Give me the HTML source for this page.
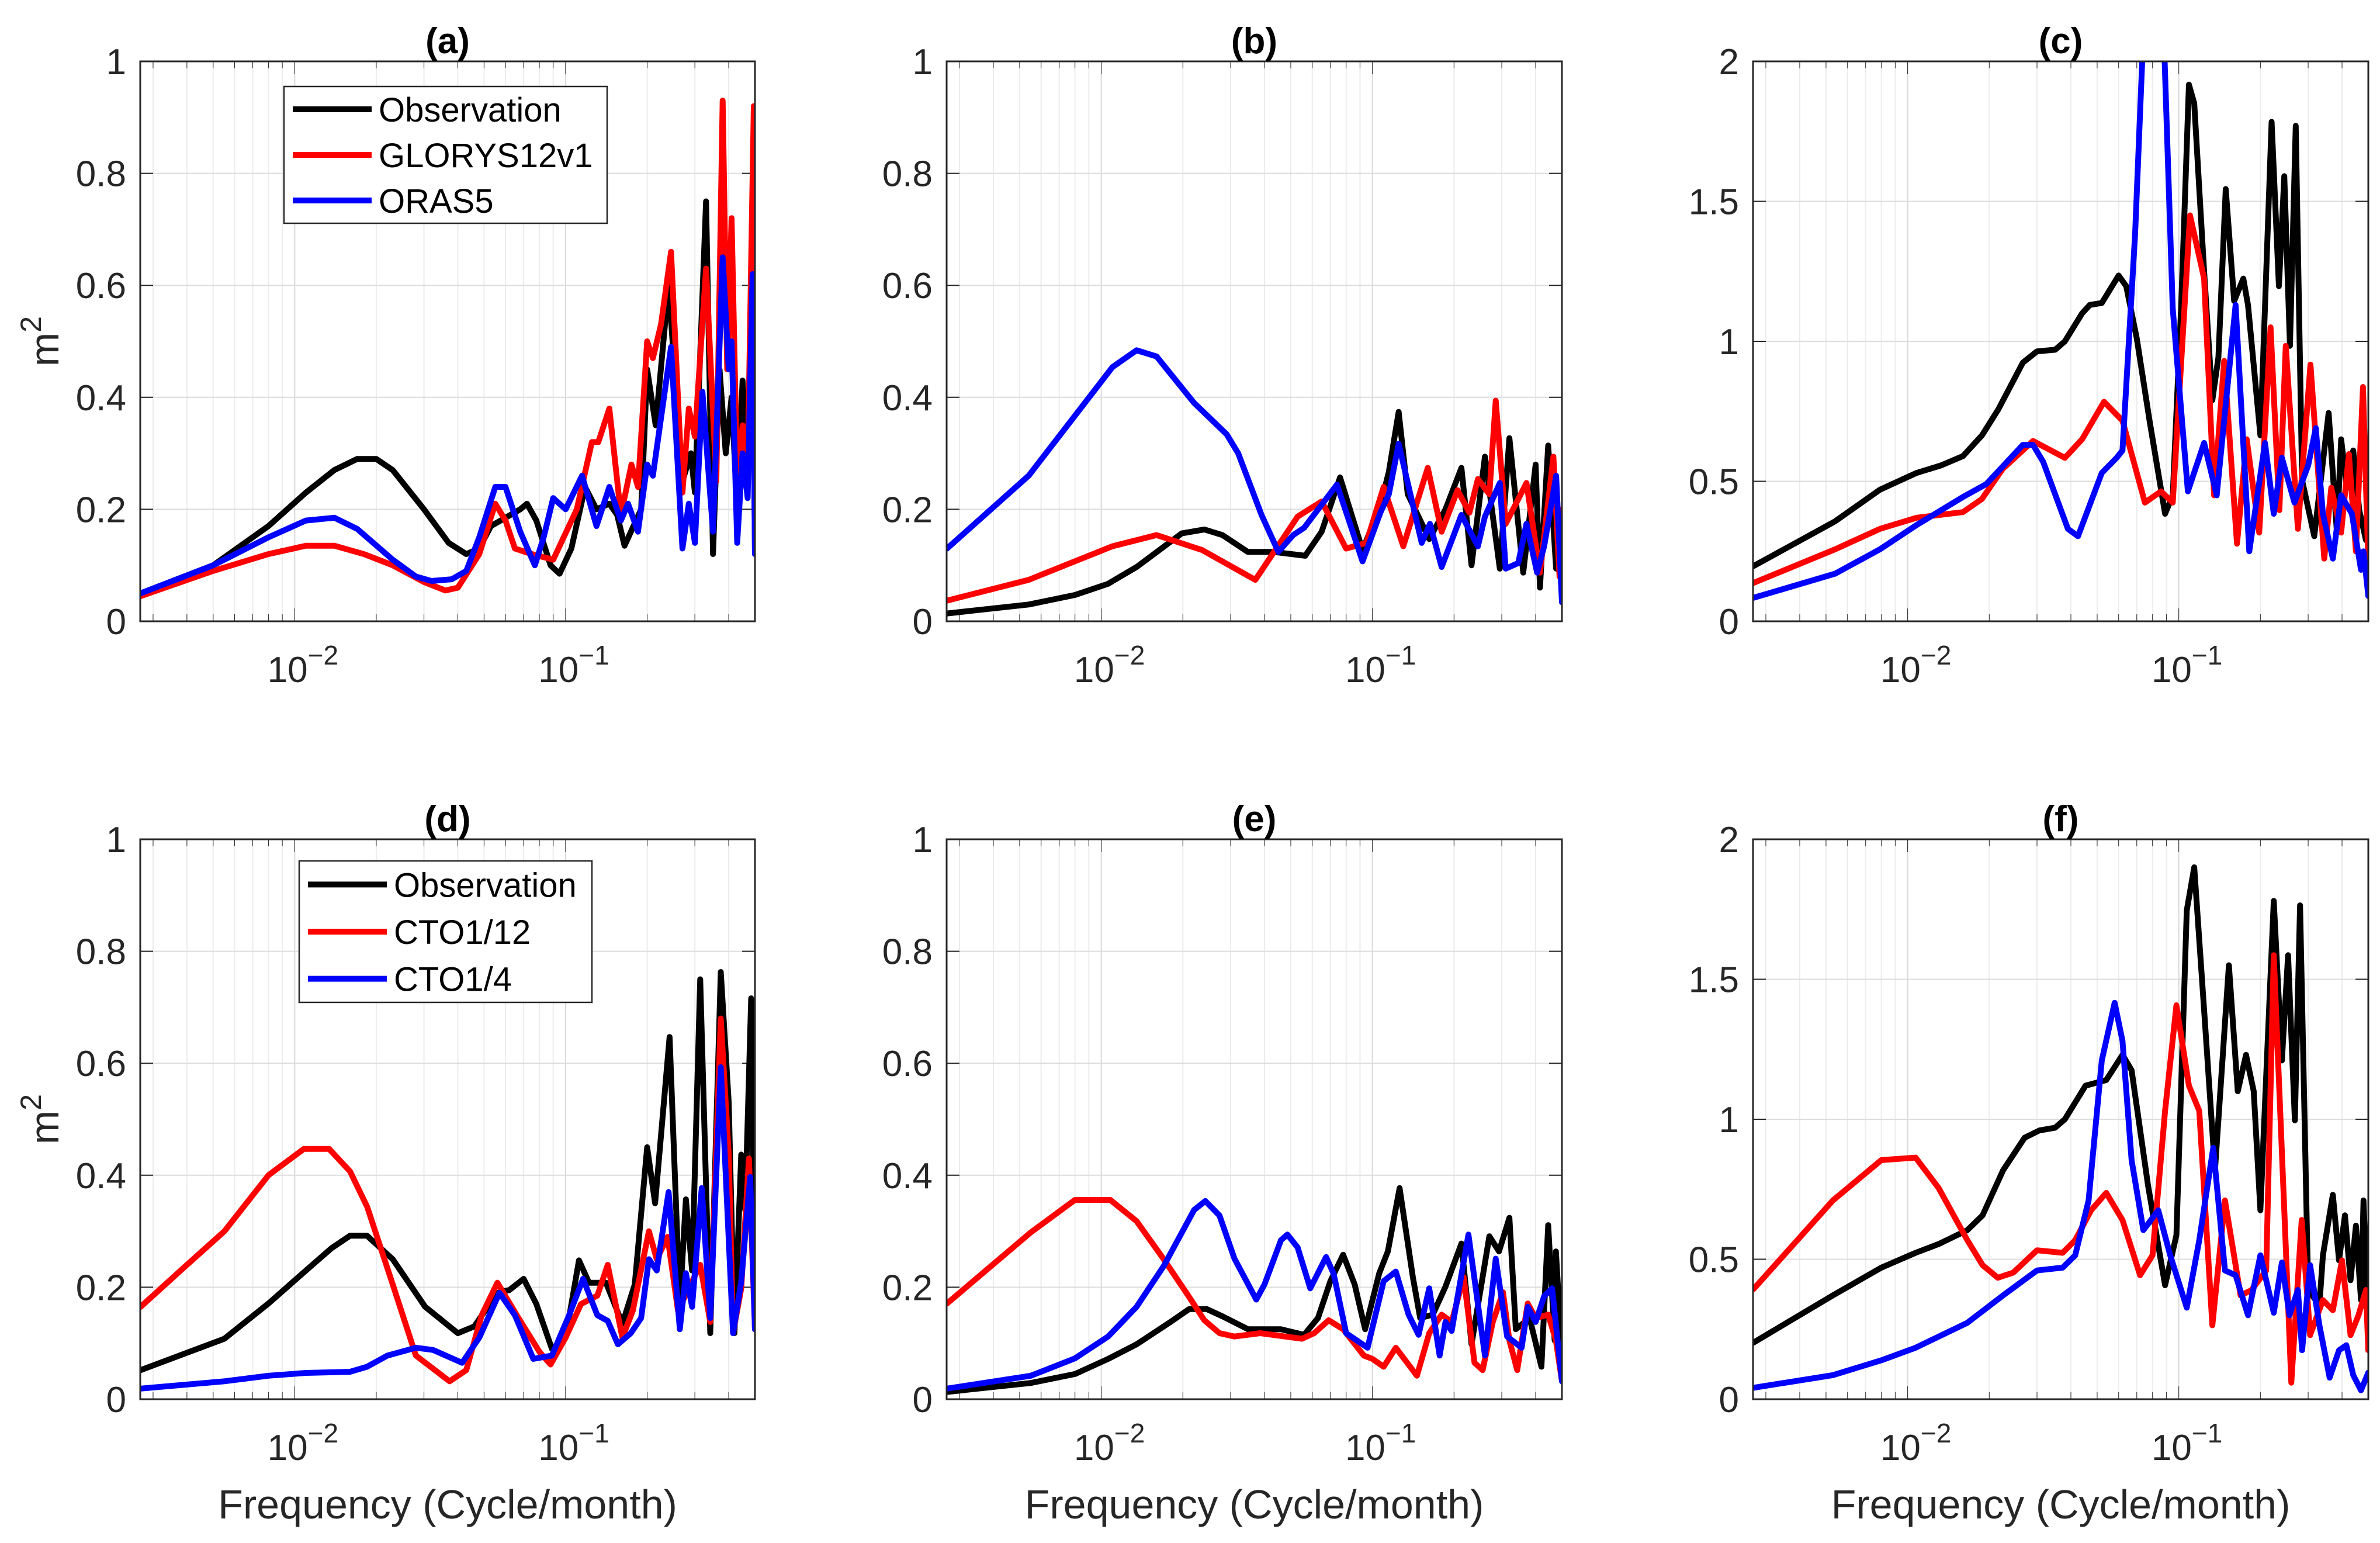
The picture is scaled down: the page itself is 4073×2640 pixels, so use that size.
<!DOCTYPE html>
<html><head><meta charset="utf-8"><style>
html,body{margin:0;padding:0;background:#fff}
svg{display:block;font-family:"Liberation Sans",Arial,sans-serif}
</style></head><body>
<svg id="fig" width="4073" height="2640" viewBox="0 0 4073 2640" xmlns="http://www.w3.org/2000/svg"></svg>
<script>
// ---------- Data (frequency in cycle/month, power in m^2) ----------
const fA_obs=[0.0027,0.005,0.008,0.011,0.014,0.017,0.02,0.023,0.03,0.037,0.043,0.048,0.053,0.06,0.068,0.072,0.078,0.088,0.095,0.105,0.118,0.13,0.145,0.155,0.165,0.19,0.2,0.215,0.24,0.27,0.29,0.3,0.33,0.35,0.37,0.39,0.41,0.43,0.45,0.47,0.49,0.5];
const vA_obs=[0.05,0.1,0.17,0.23,0.27,0.29,0.29,0.27,0.2,0.14,0.12,0.13,0.17,0.185,0.2,0.21,0.18,0.1,0.085,0.13,0.24,0.2,0.21,0.19,0.135,0.2,0.45,0.35,0.6,0.25,0.3,0.23,0.75,0.12,0.45,0.3,0.4,0.2,0.43,0.28,0.6,0.12];
const fA_red=[0.0027,0.005,0.008,0.011,0.014,0.018,0.023,0.03,0.036,0.04,0.048,0.055,0.06,0.065,0.075,0.09,0.11,0.125,0.132,0.145,0.16,0.175,0.185,0.2,0.21,0.225,0.245,0.27,0.285,0.3,0.33,0.36,0.38,0.395,0.41,0.43,0.45,0.47,0.495,0.5];
const vA_red=[0.045,0.09,0.12,0.135,0.135,0.12,0.1,0.07,0.055,0.06,0.12,0.21,0.18,0.13,0.12,0.11,0.2,0.32,0.32,0.38,0.19,0.28,0.24,0.5,0.47,0.53,0.66,0.23,0.38,0.33,0.63,0.25,0.93,0.45,0.72,0.25,0.35,0.27,0.92,0.5];
const fA_blue=[0.0027,0.005,0.008,0.011,0.014,0.017,0.023,0.028,0.032,0.038,0.043,0.048,0.055,0.06,0.068,0.077,0.083,0.09,0.1,0.115,0.13,0.145,0.16,0.17,0.185,0.2,0.21,0.245,0.27,0.285,0.3,0.32,0.35,0.38,0.4,0.41,0.43,0.45,0.47,0.49,0.5];
const vA_blue=[0.05,0.1,0.15,0.18,0.185,0.165,0.11,0.08,0.072,0.075,0.09,0.15,0.24,0.24,0.16,0.1,0.15,0.22,0.2,0.26,0.17,0.24,0.18,0.21,0.16,0.28,0.26,0.49,0.13,0.21,0.14,0.41,0.16,0.65,0.45,0.5,0.14,0.3,0.22,0.62,0.12];

const fB_obs=[0.0027,0.0054,0.008,0.0106,0.0135,0.0198,0.024,0.028,0.0347,0.043,0.0565,0.065,0.076,0.092,0.107,0.115,0.125,0.135,0.162,0.186,0.213,0.232,0.26,0.295,0.32,0.36,0.4,0.415,0.445,0.476,0.5];
const vB_obs=[0.014,0.03,0.047,0.067,0.097,0.157,0.164,0.154,0.124,0.124,0.117,0.16,0.257,0.127,0.207,0.267,0.374,0.227,0.147,0.2,0.274,0.1,0.294,0.094,0.327,0.087,0.28,0.06,0.314,0.094,0.154];
const fB_red=[0.0027,0.0054,0.011,0.016,0.0236,0.037,0.053,0.065,0.08,0.095,0.11,0.13,0.16,0.18,0.206,0.228,0.245,0.27,0.285,0.31,0.37,0.415,0.465,0.49,0.5];
const vB_red=[0.037,0.074,0.134,0.154,0.127,0.074,0.187,0.214,0.13,0.14,0.24,0.134,0.274,0.16,0.234,0.194,0.254,0.227,0.394,0.174,0.247,0.087,0.294,0.08,0.2];
const fB_blue=[0.0027,0.0054,0.011,0.0135,0.016,0.022,0.029,0.032,0.039,0.045,0.051,0.056,0.074,0.092,0.107,0.115,0.125,0.152,0.163,0.18,0.213,0.245,0.26,0.295,0.31,0.345,0.37,0.405,0.43,0.476,0.5];
const vB_blue=[0.13,0.26,0.454,0.484,0.473,0.39,0.334,0.3,0.19,0.124,0.154,0.167,0.244,0.107,0.194,0.227,0.317,0.14,0.174,0.097,0.19,0.134,0.187,0.247,0.094,0.104,0.174,0.087,0.134,0.26,0.034];

const fC_obs=[0.0027,0.0054,0.0079,0.0108,0.0133,0.016,0.0188,0.0216,0.0266,0.03,0.035,0.038,0.044,0.047,0.052,0.06,0.064,0.07,0.078,0.089,0.095,0.102,0.109,0.114,0.124,0.133,0.14,0.149,0.16,0.173,0.18,0.2,0.22,0.234,0.245,0.257,0.27,0.285,0.316,0.357,0.383,0.397,0.417,0.44,0.463,0.49];
const vC_obs=[0.197,0.357,0.47,0.53,0.557,0.59,0.664,0.757,0.924,0.964,0.97,1.0,1.1,1.13,1.137,1.235,1.197,1.01,0.717,0.384,0.45,1.117,1.917,1.85,1.25,0.79,0.944,1.544,1.144,1.224,1.13,0.664,1.784,1.197,1.59,0.984,1.77,0.504,0.304,0.744,0.317,0.65,0.477,0.61,0.397,0.29];
const fC_red=[0.0027,0.0054,0.0079,0.0108,0.016,0.0188,0.0224,0.029,0.038,0.044,0.053,0.062,0.075,0.086,0.095,0.11,0.124,0.135,0.147,0.164,0.178,0.198,0.218,0.235,0.248,0.275,0.306,0.344,0.365,0.397,0.424,0.45,0.478,0.5];
const vC_red=[0.137,0.257,0.33,0.37,0.39,0.437,0.544,0.644,0.584,0.65,0.784,0.717,0.424,0.464,0.424,1.45,1.224,0.45,0.93,0.277,0.65,0.317,1.05,0.397,0.984,0.33,0.917,0.224,0.477,0.317,0.597,0.25,0.837,0.21];
const fC_blue=[0.0027,0.0054,0.0079,0.0108,0.016,0.0195,0.0266,0.029,0.0316,0.039,0.0425,0.052,0.059,0.062,0.069,0.074,0.081,0.088,0.095,0.108,0.124,0.138,0.162,0.182,0.208,0.224,0.24,0.267,0.3,0.32,0.34,0.37,0.397,0.435,0.47,0.48,0.5];
const vC_blue=[0.084,0.17,0.257,0.344,0.444,0.49,0.63,0.63,0.57,0.33,0.304,0.53,0.584,0.61,1.384,2.1,2.6,2.1,1.117,0.464,0.637,0.45,1.13,0.25,0.637,0.384,0.584,0.424,0.557,0.69,0.384,0.224,0.45,0.384,0.184,0.25,0.09];

const fD_obs=[0.0027,0.0055,0.008,0.011,0.0137,0.016,0.0185,0.023,0.0303,0.04,0.046,0.056,0.062,0.07,0.078,0.089,0.1,0.112,0.122,0.141,0.162,0.18,0.2,0.214,0.242,0.264,0.278,0.293,0.314,0.342,0.374,0.4,0.42,0.445,0.46,0.484,0.5];
const vD_obs=[0.052,0.108,0.171,0.23,0.27,0.292,0.292,0.25,0.165,0.118,0.13,0.19,0.195,0.215,0.17,0.09,0.11,0.248,0.208,0.208,0.135,0.205,0.45,0.35,0.647,0.17,0.357,0.23,0.75,0.118,0.763,0.53,0.118,0.437,0.338,0.716,0.125];
const fD_red=[0.0027,0.004,0.0055,0.008,0.0108,0.0134,0.016,0.0185,0.023,0.028,0.0373,0.043,0.049,0.056,0.067,0.08,0.088,0.1,0.114,0.131,0.143,0.162,0.177,0.203,0.217,0.238,0.26,0.314,0.342,0.374,0.4,0.415,0.445,0.475,0.5];
const vD_red=[0.165,0.24,0.3,0.4,0.447,0.447,0.407,0.344,0.205,0.078,0.032,0.052,0.15,0.208,0.145,0.085,0.062,0.11,0.17,0.185,0.24,0.11,0.158,0.3,0.25,0.29,0.158,0.24,0.138,0.68,0.437,0.118,0.198,0.43,0.125];
const fD_blue=[0.0027,0.0055,0.008,0.011,0.016,0.0185,0.022,0.028,0.0324,0.0415,0.048,0.057,0.065,0.076,0.089,0.103,0.116,0.131,0.143,0.156,0.174,0.19,0.203,0.217,0.24,0.264,0.278,0.293,0.318,0.342,0.374,0.415,0.445,0.48,0.5];
const vD_blue=[0.019,0.032,0.042,0.047,0.049,0.058,0.078,0.092,0.088,0.065,0.11,0.19,0.15,0.072,0.078,0.15,0.215,0.15,0.14,0.098,0.118,0.145,0.25,0.23,0.37,0.125,0.225,0.165,0.377,0.145,0.593,0.118,0.21,0.397,0.125];

const fE_obs=[0.0027,0.0055,0.008,0.0106,0.0135,0.018,0.0211,0.0245,0.028,0.0348,0.046,0.056,0.063,0.07,0.078,0.086,0.094,0.106,0.114,0.126,0.141,0.15,0.167,0.186,0.213,0.232,0.27,0.293,0.32,0.338,0.38,0.42,0.445,0.47,0.475,0.5];
const vE_obs=[0.013,0.029,0.045,0.072,0.098,0.138,0.161,0.161,0.148,0.125,0.125,0.115,0.145,0.211,0.258,0.205,0.125,0.225,0.264,0.377,0.218,0.145,0.151,0.201,0.278,0.098,0.291,0.264,0.324,0.125,0.145,0.058,0.311,0.105,0.264,0.078];
const fE_red=[0.0027,0.0055,0.008,0.0108,0.0135,0.017,0.021,0.024,0.0273,0.031,0.0386,0.0476,0.055,0.061,0.069,0.078,0.093,0.1,0.11,0.122,0.146,0.162,0.18,0.196,0.217,0.238,0.255,0.278,0.303,0.32,0.342,0.374,0.4,0.445,0.475,0.5];
const vE_red=[0.171,0.298,0.356,0.356,0.318,0.25,0.184,0.141,0.118,0.112,0.118,0.112,0.108,0.118,0.141,0.125,0.078,0.072,0.058,0.092,0.042,0.118,0.151,0.138,0.218,0.065,0.052,0.138,0.191,0.105,0.052,0.171,0.145,0.151,0.105,0.032];
const fE_blue=[0.0027,0.0055,0.008,0.0106,0.0135,0.017,0.022,0.0242,0.0273,0.031,0.0373,0.04,0.046,0.0486,0.053,0.059,0.0675,0.072,0.08,0.096,0.11,0.122,0.136,0.148,0.162,0.177,0.186,0.196,0.226,0.26,0.285,0.314,0.355,0.374,0.4,0.43,0.46,0.5];
const vE_blue=[0.019,0.042,0.073,0.112,0.165,0.238,0.338,0.354,0.328,0.251,0.178,0.205,0.284,0.294,0.271,0.198,0.254,0.224,0.118,0.092,0.211,0.228,0.151,0.115,0.198,0.078,0.138,0.122,0.294,0.078,0.251,0.112,0.092,0.165,0.138,0.184,0.198,0.032];

const fF_obs=[0.0027,0.0053,0.008,0.0107,0.013,0.0166,0.0189,0.0225,0.027,0.0306,0.035,0.038,0.0453,0.054,0.062,0.067,0.077,0.089,0.098,0.107,0.114,0.124,0.136,0.153,0.165,0.177,0.189,0.2,0.224,0.24,0.253,0.268,0.28,0.3,0.33,0.34,0.37,0.39,0.41,0.43,0.45,0.47,0.48,0.5];
const vF_obs=[0.202,0.371,0.47,0.523,0.554,0.604,0.657,0.818,0.934,0.96,0.97,1.0,1.12,1.14,1.23,1.175,0.764,0.407,0.586,1.746,1.9,1.39,0.818,1.55,1.1,1.23,1.1,0.675,1.78,1.21,1.586,0.996,1.764,0.39,0.336,0.514,0.73,0.496,0.657,0.425,0.62,0.354,0.71,0.264];
const fF_red=[0.0027,0.0053,0.008,0.0107,0.013,0.0166,0.0189,0.0215,0.0245,0.03,0.0373,0.0415,0.0475,0.054,0.062,0.072,0.08,0.089,0.098,0.109,0.119,0.133,0.148,0.169,0.185,0.21,0.224,0.245,0.26,0.284,0.305,0.34,0.37,0.4,0.43,0.46,0.49,0.5];
const vF_red=[0.393,0.71,0.854,0.863,0.755,0.568,0.479,0.434,0.452,0.532,0.523,0.568,0.675,0.737,0.64,0.443,0.514,1.03,1.407,1.12,1.03,0.264,0.71,0.371,0.389,0.46,1.586,0.675,0.059,0.64,0.229,0.354,0.318,0.496,0.229,0.3,0.39,0.175];
const fF_blue=[0.0027,0.0053,0.008,0.0107,0.0166,0.0225,0.03,0.0373,0.0415,0.0465,0.052,0.058,0.062,0.067,0.074,0.084,0.093,0.107,0.119,0.134,0.148,0.162,0.18,0.2,0.224,0.24,0.256,0.275,0.285,0.305,0.33,0.36,0.39,0.415,0.44,0.47,0.5];
const vF_blue=[0.041,0.086,0.139,0.184,0.273,0.371,0.46,0.47,0.514,0.71,1.21,1.416,1.28,0.854,0.604,0.675,0.514,0.327,0.568,0.898,0.46,0.443,0.3,0.514,0.309,0.488,0.3,0.39,0.175,0.479,0.264,0.077,0.175,0.193,0.086,0.032,0.095];

const xTickVals=[0.01,0.1];
const yTicks01=[0,0.2,0.4,0.6,0.8,1];
const yTicks02=[0,0.5,1,1.5,2];
const legendTop=["Observation","GLORYS12v1","ORAS5"];
const legendBottom=["Observation","CTO1/12","CTO1/4"];

// ---------- Layout ----------
const NS="http://www.w3.org/2000/svg";
const svg=document.getElementById('fig');
const XMIN=0.00269, XMAX=0.5;
const cols=[[240,1292],[1620,2673],[3000,4053]];
const rows=[[105,1063],[1436,2394]];
const COL={obs:"#000000",red:"#ff0000",blue:"#0000ff"};

function mk(tag,attrs,parent){const e=document.createElementNS(NS,tag);for(const k in attrs)e.setAttribute(k,attrs[k]);(parent||svg).appendChild(e);return e;}

const panels=[
 {id:'a',c:0,r:0,ymax:1,ticks:yTicks01,series:[[fA_obs,vA_obs,'obs'],[fA_red,vA_red,'red'],[fA_blue,vA_blue,'blue']],legend:legendTop,lg:[486,148,1039,382],ylab:true,xlab:false},
 {id:'b',c:1,r:0,ymax:1,ticks:yTicks01,series:[[fB_obs,vB_obs,'obs'],[fB_red,vB_red,'red'],[fB_blue,vB_blue,'blue']]},
 {id:'c',c:2,r:0,ymax:2,ticks:yTicks02,series:[[fC_obs,vC_obs,'obs'],[fC_red,vC_red,'red'],[fC_blue,vC_blue,'blue']]},
 {id:'d',c:0,r:1,ymax:1,ticks:yTicks01,series:[[fD_obs,vD_obs,'obs'],[fD_red,vD_red,'red'],[fD_blue,vD_blue,'blue']],legend:legendBottom,lg:[512,1473,1013,1715],ylab:true,xlab:true},
 {id:'e',c:1,r:1,ymax:1,ticks:yTicks01,series:[[fE_obs,vE_obs,'obs'],[fE_red,vE_red,'red'],[fE_blue,vE_blue,'blue']],xlab:true},
 {id:'f',c:2,r:1,ymax:2,ticks:yTicks02,series:[[fF_obs,vF_obs,'obs'],[fF_red,vF_red,'red'],[fF_blue,vF_blue,'blue']],xlab:true}
];

panels.forEach(p=>{
 const [L,R]=cols[p.c],[T,B]=rows[p.r];
 const xs=f=>L+(Math.log10(f)-Math.log10(XMIN))/(Math.log10(XMAX)-Math.log10(XMIN))*(R-L);
 const ys=v=>B-v/p.ymax*(B-T);
 const g=mk('g',{});
 
 
 const gm=mk('g',{stroke:'#e6e6e6','stroke-width':2},g);
 
 
 for(let d=-3;d<=-1;d++)for(let m=1;m<=9;m++){const f=m*Math.pow(10,d);if(f<XMIN||f>XMAX)continue;const x=xs(f);
  mk('line',{x1:x,x2:x,y1:T,y2:B,stroke:m===1?'#d9d9d9':'#ececec'},gm);
  mk('line',{x1:x,x2:x,y1:B,y2:B-(m===1?22:12),stroke:'#262626'},g);
  mk('line',{x1:x,x2:x,y1:T,y2:T+(m===1?22:12),stroke:'#262626'},g);}
 p.ticks.forEach(v=>{const y=ys(v);mk('line',{x1:L,x2:R,y1:y,y2:y,stroke:'#dcdcdc','stroke-width':2},g);
  mk('line',{x1:L,x2:L+22,y1:y,y2:y,stroke:'#262626','stroke-width':2},g);
  mk('line',{x1:R-22,x2:R,y1:y,y2:y,stroke:'#262626','stroke-width':2},g);
  const t=mk('text',{x:L-24,y:y+22,'text-anchor':'end','font-size':62,fill:'#262626'},g);t.textContent=String(v);
  
  });
 xTickVals.forEach(v=>{const x=xs(v);const e=Math.round(Math.log10(v));
  const t=mk('text',{x:x+14,y:B+104,'text-anchor':'middle','font-size':62,fill:'#262626'},g);
  
  
  const a=mk('tspan',{},t);a.textContent='10';
  const b=mk('tspan',{dy:-30,'font-size':46},t);b.textContent='\u2212'+Math.abs(e);});
 const cid='clip'+p.id;
 const cp=mk('clipPath',{id:cid},g);mk('rect',{x:L,y:T,width:R-L,height:B-T},cp);
 const sg=mk('g',{'clip-path':'url(#'+cid+')'},g);
 p.series.forEach(s=>{const [fr,vals,k]=s;
  const d=fr.map((f,i)=>(i?'L':'M')+xs(f).toFixed(1)+' '+ys(vals[i]).toFixed(1)).join(' ');
  const path=mk('path',{d:d,fill:'none',stroke:COL[k],'stroke-width':10,'stroke-linejoin':'round','stroke-linecap':'round'},sg);
  
  });
 mk('rect',{x:L,y:T,width:R-L,height:B-T,fill:'none',stroke:'#262626','stroke-width':3},g);
 const tt=mk('text',{x:(L+R)/2,y:T-14,'text-anchor':'middle','font-size':62,'font-weight':'bold',fill:'#000'},g);
 tt.textContent='('+p.id+')';
 
 
 if(p.ylab){const yl=mk('text',{x:0,y:0,transform:'translate(100,'+((T+B)/2)+') rotate(-90)','text-anchor':'middle','font-size':70,fill:'#262626'},g);
  const a=mk('tspan',{},yl);a.textContent='m';const b=mk('tspan',{dy:-30,'font-size':50},yl);b.textContent='2';
  
  }
 if(p.xlab){const xl=mk('text',{x:(L+R)/2,y:B+204,'text-anchor':'middle','font-size':70,fill:'#262626'},g);xl.textContent='Frequency (Cycle/month)';
  
  }
 if(p.legend){const [x1,y1,x2,y2]=p.lg;const lg=mk('g',{},g);
  
  
  mk('rect',{x:x1,y:y1,width:x2-x1,height:y2-y1,fill:'#fff',stroke:'#262626','stroke-width':2.5},lg);
  const ks=['obs','red','blue'];const step=(y2-y1)/3;
  p.legend.forEach((n,i)=>{const cy=y1+step*(i+0.5);
   mk('line',{x1:x1+15,x2:x1+150,y1:cy,y2:cy,stroke:COL[ks[i]],'stroke-width':10},lg);
   const t=mk('text',{x:x1+162,y:cy+21,'font-size':58,fill:'#000'},lg);t.textContent=n;
   
   });}
});
</script>
</body></html>
